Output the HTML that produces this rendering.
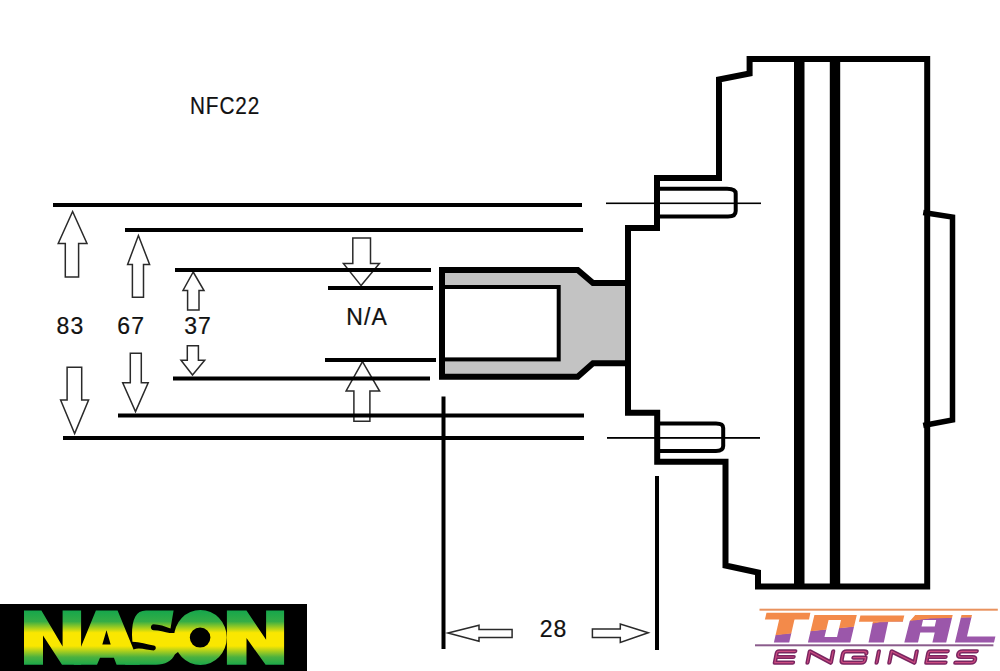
<!DOCTYPE html>
<html>
<head>
<meta charset="utf-8">
<style>
html,body{margin:0;padding:0;background:#fff;width:1000px;height:671px;overflow:hidden;}
svg{display:block;}
text{font-family:"Liberation Sans",sans-serif;}
</style>
</head>
<body>
<svg width="1000" height="671" viewBox="0 0 1000 671">
<defs>
<linearGradient id="nasonG" x1="0" y1="610.6" x2="0" y2="664.7" gradientUnits="userSpaceOnUse">
<stop offset="0" stop-color="#16a64c"/>
<stop offset="0.2" stop-color="#35ad46"/>
<stop offset="0.41" stop-color="#fae700"/>
<stop offset="0.655" stop-color="#fae700"/>
<stop offset="0.86" stop-color="#4cb13f"/>
<stop offset="1" stop-color="#1ca84a"/>
</linearGradient>
<linearGradient id="totalG" x1="863" y1="607" x2="867" y2="645" gradientUnits="userSpaceOnUse">
<stop offset="0" stop-color="#f38a4a"/>
<stop offset="0.5" stop-color="#f38a4a"/>
<stop offset="0.5" stop-color="#9b57aa"/>
<stop offset="1" stop-color="#9b57aa"/>
</linearGradient>
<clipPath id="orangeClip"><polygon points="750,600 1000,600 1000,617 965,617.6 930,618.4 903,621.7 880,622.2 856,626.6 808,631.6 760,637 750,637.6"/></clipPath>
<clipPath id="purpleClip"><polygon points="750,671 1000,671 1000,616.6 965,617.2 930,618 903,621.3 880,621.8 856,626.2 808,631.2 760,636.6 750,637.2"/></clipPath>
</defs>
<rect x="0" y="0" width="1000" height="671" fill="#fff"/>

<!-- dimension arrows (outline) -->
<g fill="none" stroke="#2a2a2a" stroke-width="1.5" stroke-linejoin="miter">
<polygon points="72.6,211.5 87,243.5 78.6,243.5 78.6,277 65.3,277 65.3,243.5 58.2,243.5"/>
<polygon points="138.4,235.5 149.6,264.5 143.5,264.5 143.5,297.2 132.4,297.2 132.4,264.5 127.6,264.5"/>
<polygon points="193.2,272 204,290.5 199,290.5 199,310 187.6,310 187.6,290.5 183,290.5"/>
<polygon points="74.6,433.6 88.6,400 81.7,400 81.7,367.2 67.1,367.2 67.1,400 60.6,400"/>
<polygon points="135.5,411.6 148.2,382.8 141.3,382.8 141.3,353.3 130.3,353.3 130.3,382.8 122.7,382.8"/>
<polygon points="192.5,375 204.7,360.3 198.4,360.3 198.4,345.8 187.3,345.8 187.3,360.3 181,360.3"/>
<polygon points="361.1,285.6 379.4,263.5 370.5,263.5 370.5,238 352.8,238 352.8,263.5 343.4,263.5"/>
<polygon points="362.5,361.6 379.6,391 369.9,391 369.9,421.2 353.9,421.2 353.9,391 346.1,391"/>
<polygon points="448,633 479,625.2 479,629.4 512.1,629.4 512.1,637.4 479,637.4 479,641.3"/>
<polygon points="648.2,632.7 620.3,624.1 620.3,628.9 592.4,628.9 592.4,637.5 620.3,637.5 620.3,642.4"/>
</g>

<!-- dimension lines -->
<g fill="#000">
<rect x="53" y="203" width="529" height="4"/>
<rect x="125" y="228" width="458" height="4"/>
<rect x="175" y="268" width="256" height="4"/>
<rect x="328" y="286" width="105" height="4"/>
<rect x="325" y="358" width="111" height="4"/>
<rect x="173" y="376.5" width="257" height="4"/>
<rect x="118" y="413.5" width="466" height="4"/>
<rect x="63" y="436" width="521" height="4"/>
<rect x="606" y="202.5" width="155" height="1.6"/>
<rect x="607" y="437" width="153" height="1.8"/>
<rect x="441.5" y="396.5" width="4" height="252.5"/>
<rect x="655" y="476" width="4" height="174"/>
</g>

<!-- shaft -->
<path d="M442,270 H577.7 L593,283 H628 V363.3 H593 L577.7,376.8 H442 Z" fill="#c3c3c3" stroke="#000" stroke-width="6" stroke-linejoin="miter"/>
<rect x="443" y="287" width="115.7" height="72.4" fill="#fff" stroke="#000" stroke-width="4"/>

<!-- flange / flywheel -->
<g fill="none" stroke="#000" stroke-linejoin="miter" stroke-linecap="square">
<polyline points="628,228 657,228 657,178 719,178 719,79.5 749.6,73.5 749.6,59 927.2,59 927.2,586.6 758,586.6 758,572.5 725.5,565.5 725.5,461.7 657.2,461.7 657.2,412.8 628,412.8 628,228" stroke-width="6"/>
<polyline points="923.2,212.5 952.5,217 952.5,420 923.2,425.5" stroke-width="5.5" stroke-linecap="butt"/>
<path d="M657,188.7 H727 Q735.7,188.7 735.7,193.5 V211 Q735.7,216.6 728,216.6 H657" stroke-width="4" stroke-linecap="butt"/>
<path d="M657,423.6 H716 Q723.2,423.6 723.2,428 V446 Q723.2,450.9 716,450.9 H657" stroke-width="4" stroke-linecap="butt"/>
</g>
<rect x="794" y="59" width="10.5" height="527" fill="#000"/>
<rect x="829.8" y="59" width="10.4" height="527" fill="#000"/>

<!-- texts -->
<g fill="#111" stroke="#111" stroke-width="0.22" font-size="23">
<text transform="translate(189.9,114.2) scale(0.9,1)" x="0" y="0" letter-spacing="1.05">NFC22</text>
<text transform="translate(56.6,333.6)" x="0" y="0" letter-spacing="1.2">83</text>
<text transform="translate(117.3,333.6)" x="0" y="0" letter-spacing="1.2">67</text>
<text transform="translate(184.2,333.6)" x="0" y="0" letter-spacing="1.0">37</text>
<text transform="translate(346.2,324.6)" x="0" y="0" letter-spacing="1.2">N/A</text>
<text transform="translate(539.8,637.2)" x="0" y="0" letter-spacing="1.0">28</text>
</g>

<!-- NASON logo -->
<rect x="0" y="604" width="307" height="67" fill="#000"/>
<g fill="url(#nasonG)">
<path d="M24,610.6 H41.4 L62.6,646.5 V610.6 H81.1 V664.7 H62 L43,635.4 V664.7 H24 Z"/>
<path fill-rule="evenodd" d="M95.9,610.6 H117.6 L139.8,664.7 H116.6 L113.9,657.7 H100 L97,664.7 H73.7 Z M106.5,630.2 L110.7,644.4 H102.3 Z"/>
<path d="M146,610.6 H173.6 L170.5,628.6 C165,626.5 159,624.3 153.7,624.3 C150,624.3 150,630.3 153.7,630.3 C159,630.5 165,632 169.5,633 L178,633 L178,652 L175,654.3 C172,661 165,664.7 156,664.7 H125 L133.4,649.5 C140,647 147,650.4 153.7,650.4 C156.5,650.4 156.5,645.6 153.7,645.6 C147,644 140,642 132.4,641.7 L132,635 C132,619 136,610.6 146,610.6 Z"/>
<path fill-rule="evenodd" d="M200.4,610 A26.4,27.5 0 1 1 200.4,665 A26.4,27.5 0 1 1 200.4,610 Z M200.1,627.6 A10.3,10 0 1 0 200.1,647.6 A10.3,10 0 1 0 200.1,627.6 Z"/>
<path d="M226.9,610.6 H246.5 L266.1,639.7 V610.6 H284.1 V664.8 H265.6 L246.5,638.1 V664.8 H226.9 Z"/>
</g>

<!-- TOTAL ENGINES logo -->
<rect x="759.5" y="608.7" width="238.3" height="2" fill="#e9925e"/>
<rect x="755" y="644.3" width="238.4" height="2" fill="#8a5c8c"/>
<g fill="#9b57aa" clip-path="url(#purpleClip)">
<polygon points="766.5,612.7 810.4,612.7 809,619.4 764.9,619.4"/>
<polygon points="779.3,619 794.6,619 789.2,642.4 773.9,642.4"/>
<path fill-rule="evenodd" d="M814.4,614.9 H856.8 L850.3,642.4 H807.9 Z M828.6,619.9 L824.5,637 H837 L841,619.9 Z"/>
<polygon points="860.4,615.4 904.3,615.4 902.8,621.7 858.9,621.7"/>
<polygon points="873,621.5 888.3,621.5 883.8,642.4 868.5,642.4"/>
<path fill-rule="evenodd" d="M915.2,614.9 H952.7 L946.2,642.4 H932.4 L934.7,632.5 H920.3 L918,642.4 H904.3 L909.7,621.3 Z M923,619.9 H936.2 L934.7,626.5 H921.5 Z"/>
<polygon points="961.5,614.9 972,614.9 967,636.4 995.4,636.4 994,642.4 954.9,642.4"/>
</g>
<g fill="#f38a4a" clip-path="url(#orangeClip)">
<polygon points="766.5,612.7 810.4,612.7 809,619.4 764.9,619.4"/>
<polygon points="779.3,619 794.6,619 789.2,642.4 773.9,642.4"/>
<path fill-rule="evenodd" d="M814.4,614.9 H856.8 L850.3,642.4 H807.9 Z M828.6,619.9 L824.5,637 H837 L841,619.9 Z"/>
<polygon points="860.4,615.4 904.3,615.4 902.8,621.7 858.9,621.7"/>
<polygon points="873,621.5 888.3,621.5 883.8,642.4 868.5,642.4"/>
<path fill-rule="evenodd" d="M915.2,614.9 H952.7 L946.2,642.4 H932.4 L934.7,632.5 H920.3 L918,642.4 H904.3 L909.7,621.3 Z M923,619.9 H936.2 L934.7,626.5 H921.5 Z"/>
<polygon points="961.5,614.9 972,614.9 967,636.4 995.4,636.4 994,642.4 954.9,642.4"/>
</g>
<g transform="matrix(1,0,-0.2,1,132.54,0)" fill="none" stroke-linecap="round" stroke-linejoin="round">
<g stroke="#7a2560" stroke-width="4.2">
<path d="M793,651.3 H776.5 Q774.8,651.3 774.8,653 V662.7 H793 M774.8,657 H792.5"/>
<path d="M807.5,662.7 V651.3 L830.9,662.7 V651.3"/>
<path d="M864.5,653.6 Q864.5,651.3 861.5,651.3 H844.1 Q841.1,651.3 841.1,654.3 V659.7 Q841.1,662.7 844.1,662.7 H861.5 Q864.5,662.7 864.5,659.7 V657.6 H852.4"/>
<path d="M876.6,651.3 V662.7"/>
<path d="M889.3,662.7 V651.3 L914.5,662.7 V651.3"/>
<path d="M945.5,651.3 H928 Q926.3,651.3 926.3,653 V662.7 H945.5 M926.3,657 H944.5"/>
<path d="M974.5,651.3 H960 Q956.5,651.3 956.5,654.1 Q956.5,657 960,657 H971 Q974.5,657 974.5,659.8 Q974.5,662.7 971,662.7 H955.3"/>
</g>
<g stroke="#cc4c80" stroke-width="1.2">
<path d="M793,651.3 H776.5 Q774.8,651.3 774.8,653 V662.7 H793 M774.8,657 H792.5"/>
<path d="M807.5,662.7 V651.3 L830.9,662.7 V651.3"/>
<path d="M864.5,653.6 Q864.5,651.3 861.5,651.3 H844.1 Q841.1,651.3 841.1,654.3 V659.7 Q841.1,662.7 844.1,662.7 H861.5 Q864.5,662.7 864.5,659.7 V657.6 H852.4"/>
<path d="M876.6,651.3 V662.7"/>
<path d="M889.3,662.7 V651.3 L914.5,662.7 V651.3"/>
<path d="M945.5,651.3 H928 Q926.3,651.3 926.3,653 V662.7 H945.5 M926.3,657 H944.5"/>
<path d="M974.5,651.3 H960 Q956.5,651.3 956.5,654.1 Q956.5,657 960,657 H971 Q974.5,657 974.5,659.8 Q974.5,662.7 971,662.7 H955.3"/>
</g>
</g>
</svg>
</body>
</html>
